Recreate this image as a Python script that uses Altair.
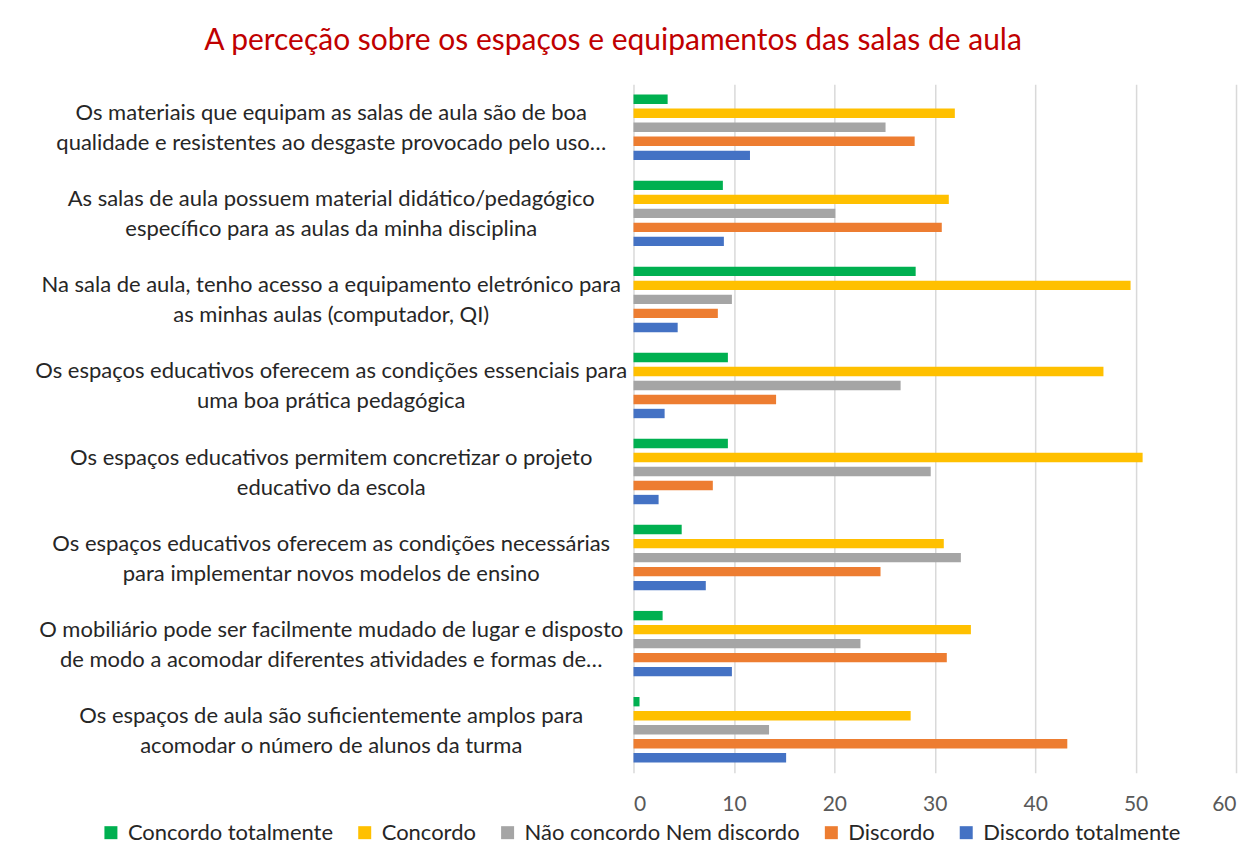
import altair as alt
import pandas as pd

categories = [
    "Os materiais que equipam as salas de aula são de boa\nqualidade e resistentes ao desgaste provocado pelo uso…",
    "As salas de aula possuem material didático/pedagógico\nespecífico para as aulas da minha disciplina",
    "Na sala de aula, tenho acesso a equipamento eletrónico para\nas minhas aulas (computador, QI)",
    "Os espaços educativos oferecem as condições essenciais para\numa boa prática pedagógica",
    "Os espaços educativos permitem concretizar o projeto\neducativo da escola",
    "Os espaços educativos oferecem as condições necessárias\npara implementar novos modelos de ensino",
    "O mobiliário pode ser facilmente mudado de lugar e disposto\nde modo a acomodar diferentes atividades e formas de…",
    "Os espaços de aula são suficientemente amplos para\nacomodar o número de alunos da turma",
]

series = ["Concordo totalmente", "Concordo", "Não concordo Nem discordo", "Discordo", "Discordo totalmente"]
colors = ["#00B050", "#FFC000", "#A5A5A5", "#ED7D31", "#4472C4"]

concordo_totalmente = [3.4, 8.9, 28.1, 9.4, 9.4, 4.8, 2.9, 0.6]
concordo = [32.0, 31.4, 49.5, 46.8, 50.7, 30.9, 33.6, 27.6]
nem = [25.1, 20.1, 9.8, 26.6, 29.6, 32.6, 22.6, 13.5]
discordo = [28.0, 30.7, 8.4, 14.2, 7.9, 24.6, 31.2, 43.2]
discordo_totalmente = [11.6, 9.0, 4.4, 3.1, 2.5, 7.2, 9.8, 15.2]

x_ticks = [0, 10, 20, 30, 40, 50, 60]

rows = []
for s, vals in zip(series, [concordo_totalmente, concordo, nem, discordo, discordo_totalmente]):
    for c, v in zip(categories, vals):
        rows.append({"category": c, "series": s, "value": v})
df = pd.DataFrame(rows)

FONT = "Lato"

chart = alt.Chart(df).mark_bar().encode(
    x=alt.X(
        "value:Q",
        scale=alt.Scale(domain=[0, 60], nice=False),
        axis=alt.Axis(
            values=x_ticks, grid=True, gridColor="#D9D9D9", gridWidth=1.5,
            domain=False, ticks=False, tickSize=0, labelFontSize=21, labelColor="#595959",
            labelFont=FONT, labelPadding=21, title=None,
        ),
    ),
    y=alt.Y(
        "category:N",
        sort=categories,
        scale=alt.Scale(paddingInner=0.186, paddingOuter=0.093),
        axis=alt.Axis(
            title=None, labelExpr="split(datum.label, '\\n')", domain=False, ticks=False,
            tickSize=0, labelAlign="center", labelPadding=303, labelFontSize=22,
            labelLineHeight=30, labelLimit=0, labelFont=FONT, labelColor="#262626",
            labelOverlap=False, labelOffset=-14,
        ),
    ),
    yOffset=alt.YOffset(
        "series:N", sort=series, scale=alt.Scale(paddingInner=0.33, paddingOuter=0.165)
    ),
    color=alt.Color(
        "series:N",
        sort=series,
        scale=alt.Scale(domain=series, range=colors),
        legend=alt.Legend(
            title=None, orient="none", legendX=-534, legendY=738, direction="horizontal",
            symbolType="square", symbolSize=169, symbolStrokeWidth=0, labelFontSize=22,
            labelFont=FONT, labelColor="#262626", labelOffset=6, columnPadding=20,
            labelLimit=0,
        ),
    ),
).properties(
    width=603,
    height=689,
    title=alt.TitleParams(
        "A perceção sobre os espaços e equipamentos das salas de aula",
        fontSize=30, color="#C00000", font=FONT, fontWeight="normal",
        anchor="middle", frame="group", dx=-322, offset=28,
    ),
    autosize=alt.AutoSizeParams(type="none"),
    padding={"left": 626, "top": 76, "right": 10, "bottom": 80},
).configure_view(stroke=None)

chart.save("out.html", embed_options={"renderer": "svg", "actions": False})
